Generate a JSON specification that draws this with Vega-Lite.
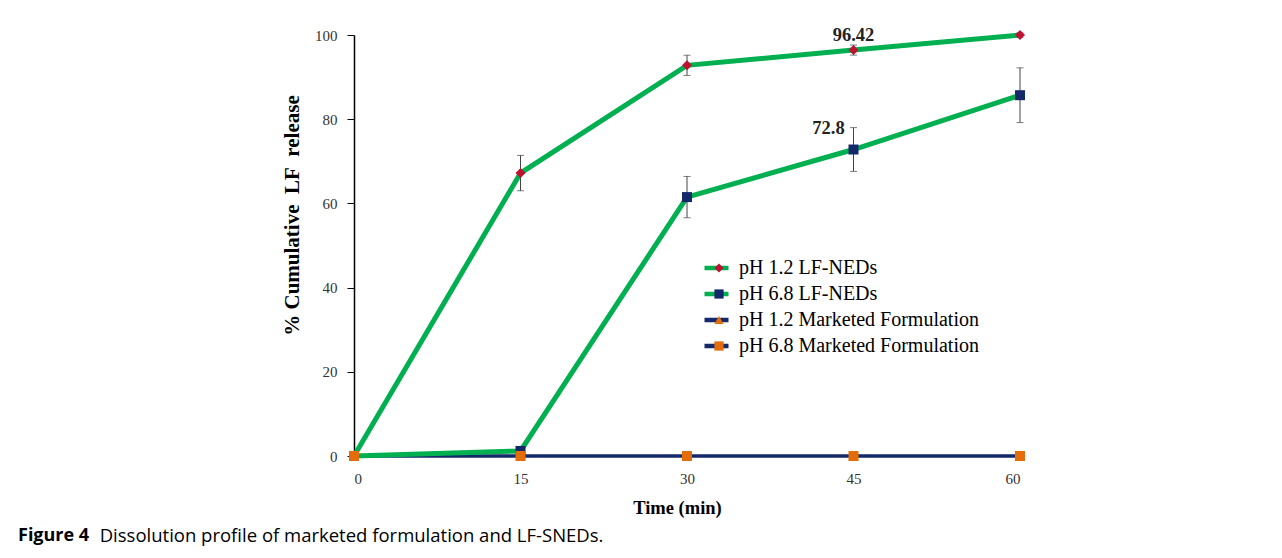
{
  "$schema": "https://vega.github.io/schema/vega-lite/v6.json",
  "width": 666,
  "height": 421,
  "autosize": {"type": "none"},
  "padding": {"left": 354, "top": 35, "right": 262, "bottom": 102},
  "background": "white",
  "config": {"view": {"stroke": null}, "font": "Liberation Serif"},
  "title": {
    "text": "Figure 4",
    "subtitle": "\u200b\u00a0\u00a0\u00a0\u00a0\u00a0\u00a0\u00a0\u00a0\u00a0\u00a0\u00a0\u00a0\u00a0\u00a0\u00a0\u00a0\u00a0Dissolution profile of marketed formulation and LF-SNEDs.",
    "orient": "bottom",
    "anchor": "start",
    "frame": "group",
    "dx": -336,
    "offset": 10,
    "font": "Open Sans",
    "fontSize": 18,
    "fontWeight": "bold",
    "color": "black",
    "subtitleFont": "Open Sans",
    "subtitleFontSize": 18.5,
    "subtitleFontWeight": "normal",
    "subtitleColor": "black",
    "subtitlePadding": -17.5
  },
  "data": {
    "values": [
      {"series": "pH 1.2 LF-NEDs", "time": 0, "release": 0, "err": 0},
      {"series": "pH 1.2 LF-NEDs", "time": 15, "release": 67.2, "err": 4.2},
      {"series": "pH 1.2 LF-NEDs", "time": 30, "release": 92.8, "err": 2.4},
      {"series": "pH 1.2 LF-NEDs", "time": 45, "release": 96.42, "err": 1.2, "label": "96.42"},
      {"series": "pH 1.2 LF-NEDs", "time": 60, "release": 100, "err": 0.5},
      {"series": "pH 6.8 LF-NEDs", "time": 0, "release": 0, "err": 0},
      {"series": "pH 6.8 LF-NEDs", "time": 15, "release": 1.2, "err": 0},
      {"series": "pH 6.8 LF-NEDs", "time": 30, "release": 61.5, "err": 4.9},
      {"series": "pH 6.8 LF-NEDs", "time": 45, "release": 72.8, "err": 5.2, "label": "72.8"},
      {"series": "pH 6.8 LF-NEDs", "time": 60, "release": 85.7, "err": 6.5},
      {"series": "pH 1.2 Marketed Formulation", "time": 0, "release": 0, "err": 0},
      {"series": "pH 1.2 Marketed Formulation", "time": 15, "release": 0, "err": 0},
      {"series": "pH 1.2 Marketed Formulation", "time": 30, "release": 0, "err": 0},
      {"series": "pH 1.2 Marketed Formulation", "time": 45, "release": 0, "err": 0},
      {"series": "pH 1.2 Marketed Formulation", "time": 60, "release": 0, "err": 0},
      {"series": "pH 6.8 Marketed Formulation", "time": 0, "release": 0, "err": 0},
      {"series": "pH 6.8 Marketed Formulation", "time": 15, "release": 0, "err": 0},
      {"series": "pH 6.8 Marketed Formulation", "time": 30, "release": 0, "err": 0},
      {"series": "pH 6.8 Marketed Formulation", "time": 45, "release": 0, "err": 0},
      {"series": "pH 6.8 Marketed Formulation", "time": 60, "release": 0, "err": 0}
    ]
  },
  "encoding": {
    "x": {
      "field": "time",
      "type": "quantitative",
      "scale": {"domain": [0, 60], "nice": false},
      "axis": {
        "title": "Time (min)",
        "values": [0, 15, 30, 45, 60],
        "grid": false,
        "ticks": false,
        "tickSize": 0,
        "labelPadding": 15,
        "labelFont": "Liberation Serif",
        "labelFontSize": 15,
        "labelColor": "#333333",
        "domainColor": "black",
        "titleFont": "Liberation Serif",
        "titleFontSize": 18.5,
        "titleFontWeight": "bold",
        "titleColor": "black",
        "titlePadding": 12,
        "titleX": 323
      }
    },
    "y": {
      "field": "release",
      "type": "quantitative",
      "scale": {"domain": [0, 100], "nice": false},
      "axis": {
        "title": "% Cumulative\u00a0\u00a0LF\u00a0\u00a0release",
        "values": [0, 20, 40, 60, 80, 100],
        "grid": false,
        "tickSize": 7,
        "tickColor": "black",
        "domainColor": "black",
        "domainWidth": 1.5,
        "labelPadding": 10,
        "labelFont": "Liberation Serif",
        "labelFontSize": 15,
        "labelColor": "#333333",
        "titleFont": "Liberation Serif",
        "titleFontSize": 21,
        "titleFontWeight": "bold",
        "titleColor": "black",
        "titlePadding": 12,
        "titleY": 180
      }
    }
  },
  "layer": [
    {
      "transform": [{"filter": "indexof(datum.series, 'Marketed') >= 0"}],
      "mark": {"type": "line", "strokeWidth": 3},
      "encoding": {
        "stroke": {
          "field": "series",
          "type": "nominal",
          "sort": ["pH 1.2 LF-NEDs", "pH 6.8 LF-NEDs", "pH 1.2 Marketed Formulation", "pH 6.8 Marketed Formulation"],
          "scale": {"range": ["#00b050", "#00b050", "#14286a", "#14286a"]},
          "legend": {
            "orient": "none",
            "legendX": 348,
            "legendY": 220,
            "title": null,
            "symbolType": "stroke",
            "symbolSize": 576,
            "symbolStrokeWidth": 4.5,
            "labelFont": "Liberation Serif",
            "labelFontSize": 20,
            "labelColor": "black",
            "labelOffset": 8,
            "labelLimit": 0,
            "clipHeight": 26,
            "rowPadding": 0,
            "padding": 0
          }
        }
      }
    },
    {
      "transform": [{"filter": "indexof(datum.series, 'LF-NEDs') >= 0"}],
      "mark": {"type": "line", "strokeWidth": 5},
      "encoding": {
        "stroke": {
          "field": "series",
          "type": "nominal",
          "sort": ["pH 1.2 LF-NEDs", "pH 6.8 LF-NEDs", "pH 1.2 Marketed Formulation", "pH 6.8 Marketed Formulation"],
          "scale": {"range": ["#00b050", "#00b050", "#14286a", "#14286a"]},
          "legend": {
            "orient": "none",
            "legendX": 348,
            "legendY": 220,
            "title": null,
            "symbolType": "stroke",
            "symbolSize": 576,
            "symbolStrokeWidth": 4.5,
            "labelFont": "Liberation Serif",
            "labelFontSize": 20,
            "labelColor": "black",
            "labelOffset": 8,
            "labelLimit": 0,
            "clipHeight": 26,
            "rowPadding": 0,
            "padding": 0
          }
        }
      }
    },
    {
      "transform": [{"filter": "datum.err > 0"}],
      "mark": {"type": "errorbar", "color": "#444444", "thickness": 1, "ticks": {"size": 7, "thickness": 1, "color": "#444444"}},
      "encoding": {"yError": {"field": "err"}}
    },
    {
      "mark": {"type": "point", "filled": true, "opacity": 1, "size": 100, "strokeWidth": 0},
      "encoding": {
        "fill": {
          "field": "series",
          "type": "nominal",
          "scale": {
            "domain": ["pH 1.2 LF-NEDs", "pH 6.8 LF-NEDs", "pH 1.2 Marketed Formulation", "pH 6.8 Marketed Formulation"],
            "range": ["#be1230", "#14286a", "#e46c0a", "#e46c0a"]
          },
          "legend": {
            "orient": "none",
            "legendX": 355,
            "legendY": 220,
            "title": null,
            "symbolSize": 85,
            "symbolStrokeWidth": 0,
            "symbolOpacity": 1,
            "labelFontSize": 20,
            "labelOpacity": 0,
            "labelLimit": 0,
            "clipHeight": 26,
            "rowPadding": 0,
            "padding": 0
          }
        },
        "shape": {
          "field": "series",
          "type": "nominal",
          "scale": {
            "domain": ["pH 1.2 LF-NEDs", "pH 6.8 LF-NEDs", "pH 1.2 Marketed Formulation", "pH 6.8 Marketed Formulation"],
            "range": ["diamond", "square", "triangle-up", "square"]
          },
          "legend": {
            "orient": "none",
            "legendX": 355,
            "legendY": 220,
            "title": null,
            "symbolSize": 85,
            "symbolStrokeWidth": 0,
            "symbolOpacity": 1,
            "labelFontSize": 20,
            "labelOpacity": 0,
            "labelLimit": 0,
            "clipHeight": 26,
            "rowPadding": 0,
            "padding": 0
          }
        }
      }
    },
    {
      "transform": [{"filter": "datum.label == '96.42'"}],
      "mark": {"type": "text", "font": "Liberation Serif", "fontSize": 18.5, "fontWeight": "bold", "color": "#222222", "dy": -15},
      "encoding": {"text": {"field": "label"}}
    },
    {
      "transform": [{"filter": "datum.label == '72.8'"}],
      "mark": {"type": "text", "font": "Liberation Serif", "fontSize": 18.5, "fontWeight": "bold", "color": "#222222", "dx": -25, "dy": -22},
      "encoding": {"text": {"field": "label"}}
    }
  ]
}
